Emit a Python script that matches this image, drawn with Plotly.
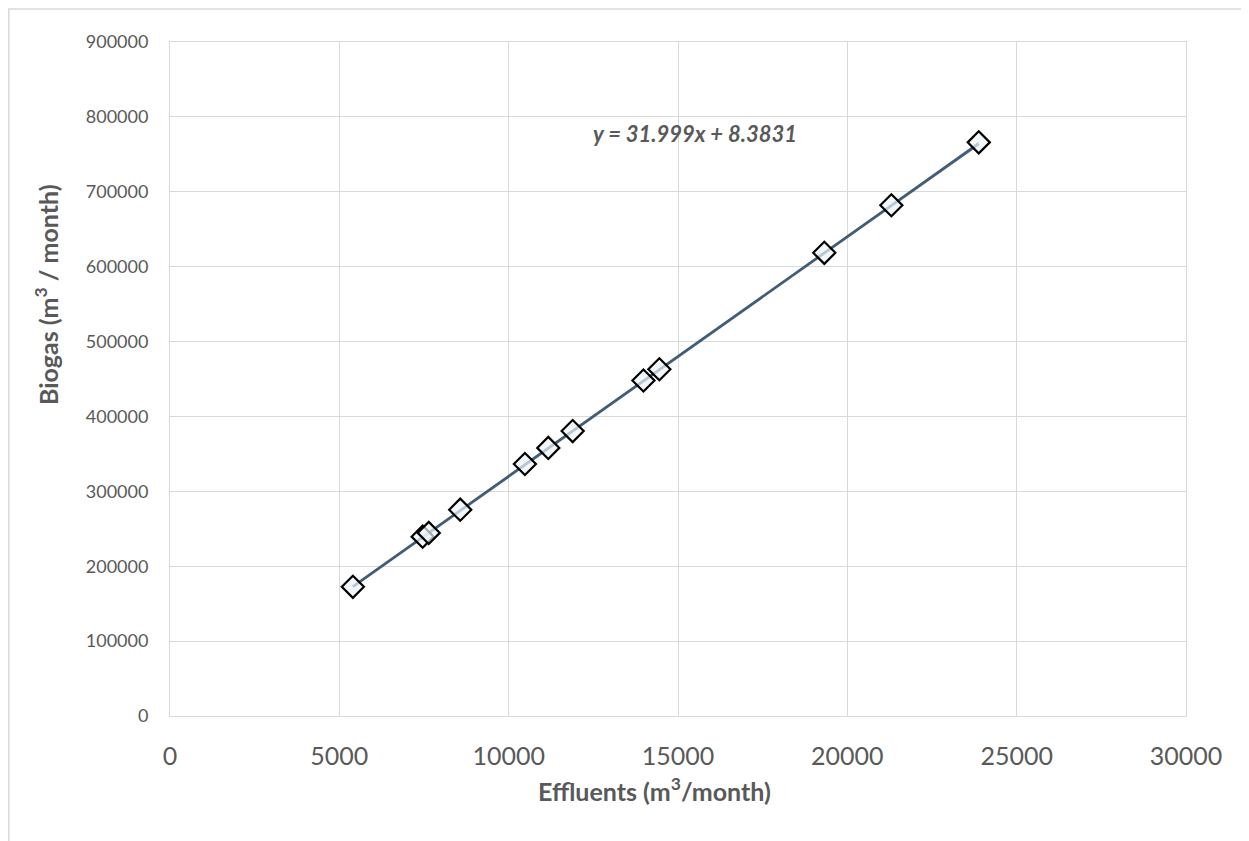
import plotly.graph_objects as go

# Data
effluents = [5400, 7460, 7640, 8570, 10480, 11170, 11890, 13980, 14450, 19320, 21300, 23880]
biogas = [172500, 239500, 244500, 275500, 336500, 358000, 380500, 448000, 463000, 618500, 682000, 766000]

slope = 31.999
intercept = 8.3831
equation_text = "y = 31.999x + 8.3831"
x_title = "Effluents (m<sup>3</sup>/month)"
y_title = "Biogas (m<sup>3</sup> / month)"

x_ticks = [0, 5000, 10000, 15000, 20000, 25000, 30000]
y_ticks = [0, 100000, 200000, 300000, 400000, 500000, 600000, 700000, 800000, 900000]

fig = go.Figure()

# data series line (light blue)
fig.add_trace(go.Scatter(
    x=effluents, y=biogas, mode="lines",
    line=dict(color="#9DC3E6", width=1.5), showlegend=False, hoverinfo="skip"))

# trendline
tx = [min(effluents), max(effluents)]
ty = [slope * v + intercept for v in tx]
fig.add_trace(go.Scatter(
    x=tx, y=ty, mode="lines",
    line=dict(color="#34506B", width=2.8), opacity=0.9, showlegend=False, hoverinfo="skip"))

# markers
fig.add_trace(go.Scatter(
    x=effluents, y=biogas, mode="markers",
    marker=dict(symbol="diamond", size=17, color="rgba(235,243,250,0.7)",
                line=dict(color="#000000", width=2.2)),
    showlegend=False))

font_family = "Lato, 'Open Sans', sans-serif"

# page offset of the plot in the browser (body margin)
off = 8
L, T, R, B = 170 - off, 42 - off, 1186 - off, 716 - off  # plot area in figure px
W, H = 1249, 841
PW, PH = R - L, B - T


def px(xp):
    return (xp - off - L) / PW


def py(yp):
    return (B - (yp - off)) / PH


fig.update_layout(
    width=W, height=H,
    margin=dict(l=L, r=W - R, t=T, b=H - B),
    paper_bgcolor="white", plot_bgcolor="white",
    font=dict(family=font_family, color="#595959"),
    xaxis=dict(
        range=[0, 30000], tickvals=x_ticks, ticktext=[str(v) for v in x_ticks],
        showgrid=True, gridcolor="#D9D9D9", gridwidth=1,
        zeroline=False, showline=True, linecolor="#D9D9D9", linewidth=1, mirror=True,
        ticks="", tickfont=dict(size=25, color="#595959"), ticklabelstandoff=18,
    ),
    yaxis=dict(
        range=[0, 900000], tickvals=y_ticks, ticktext=[str(v) for v in y_ticks],
        showgrid=True, gridcolor="#D9D9D9", gridwidth=1,
        zeroline=False, showline=True, linecolor="#D9D9D9", linewidth=1, mirror=True,
        ticks="", tickfont=dict(size=18, color="#595959"), ticklabelstandoff=17,
    ),
    annotations=[
        dict(x=px(695), y=py(133), xref="paper", yref="paper",
             xanchor="center", yanchor="middle",
             text="<b><i>" + equation_text + "</i></b>",
             showarrow=False, font=dict(size=22, color="#595959")),
        dict(x=px(654), y=py(790), xref="paper", yref="paper",
             xanchor="center", yanchor="middle",
             text="<b>" + x_title + "</b>",
             showarrow=False, font=dict(size=25, color="#595959")),
        dict(x=px(46), y=py(295), xref="paper", yref="paper",
             xanchor="center", yanchor="middle",
             text="<b>" + y_title + "</b>", textangle=-90,
             showarrow=False, font=dict(size=25, color="#595959")),
    ],
    shapes=[dict(type="rect", xref="paper", yref="paper",
                 x0=px(8.8), x1=1.1, y0=-0.25, y1=py(9),
                 line=dict(color="#D9D9D9", width=1.5), fillcolor="rgba(0,0,0,0)", layer="below")],
)

fig.write_html("out.html")
